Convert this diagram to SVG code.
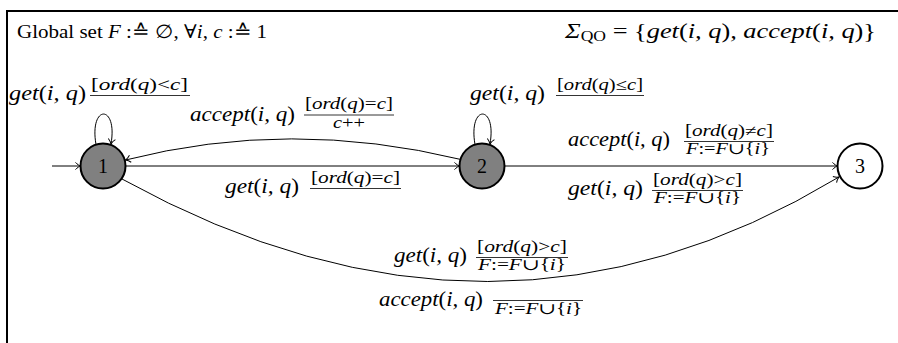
<svg xmlns="http://www.w3.org/2000/svg" width="898" height="343" viewBox="0 0 898 343">
<defs>
<style>
text{font-family:"Liberation Serif","Times New Roman",Times,"Noto Serif","DejaVu Serif",serif;fill:#000}
.m{font-style:italic;font-size:21px}
.s{font-style:italic;font-size:16px}
.u{font-style:normal}
.r{font-size:19px}
.n{font-size:20px;text-anchor:middle}
.fl{stroke:#000;stroke-width:0.8}
.e{fill:none;stroke:#000;stroke-width:1;marker-end:url(#arr)}
.st{stroke:#000;stroke-width:2}
</style>
<marker id="arr" markerUnits="userSpaceOnUse" markerWidth="12" markerHeight="12" viewBox="-7 -6 8 12" refX="0" refY="0" orient="auto" overflow="visible">
<path d="M-5,-3.6 C-3,-1.3 -1,-0.4 0,0 C-1,0.4 -3,1.3 -5,3.6" fill="none" stroke="#000" stroke-width="1"/>
</marker>
</defs>
<rect width="898" height="343" fill="#fff"/>
<path d="M7,343 V11 H898" fill="none" stroke="#000" stroke-width="2"/>

<g id="header">
<text class="r" x="17" y="38" textLength="250" lengthAdjust="spacingAndGlyphs">Global set <tspan font-style="italic">F</tspan> :≙ ∅, ∀<tspan font-style="italic">i</tspan>, <tspan font-style="italic">c</tspan> :≙ 1</text>
<text class="m" x="565" y="38" textLength="311" lengthAdjust="spacingAndGlyphs">Σ<tspan class="u" font-size="14px" dy="3">QO</tspan><tspan class="u" dy="-3"> = {</tspan>get<tspan class="u">(</tspan>i, q<tspan class="u">)</tspan>, accept<tspan class="u">(</tspan>i, q<tspan class="u">)}</tspan></text>
</g>

<g id="connectors">
<path id="init" class="e" d="M52,166 H80.5"/>
<path id="loop1" class="e" d="M96,144.5 C89,104 118,104 111,144"/>
<path id="loop2" class="e" d="M475,144.5 C468,104 497,104 490,144"/>
<path id="e12" class="e" d="M125.5,166 H459.5"/>
<path id="e21" class="e" d="M461,159.5 Q290,118 125.5,160"/>
<path id="e23" class="e" d="M504.5,166 H837.5"/>
<path id="e13" class="e" d="M122,179 Q495,385 839,177"/>
</g>

<g id="labels">
<g id="l-loop1">
<text class="m" x="9" y="100" textLength="77" lengthAdjust="spacingAndGlyphs">get<tspan class="u">(</tspan>i, q<tspan class="u">)</tspan></text>
<text class="s" x="91" y="90" textLength="97" lengthAdjust="spacingAndGlyphs"><tspan class="u">[</tspan>ord<tspan class="u">(</tspan>q<tspan class="u">)&lt;</tspan>c<tspan class="u">]</tspan></text>
<line class="fl" x1="90" y1="95.5" x2="190" y2="95.5"/>
</g>
<g id="l-e21">
<text class="m" x="190" y="121" textLength="105" lengthAdjust="spacingAndGlyphs">accept<tspan class="u">(</tspan>i, q<tspan class="u">)</tspan></text>
<text class="s" x="305" y="109" textLength="88" lengthAdjust="spacingAndGlyphs"><tspan class="u">[</tspan>ord<tspan class="u">(</tspan>q<tspan class="u">)=</tspan>c<tspan class="u">]</tspan></text>
<line class="fl" x1="304" y1="115" x2="394" y2="115"/>
<text class="s" x="349" y="128" text-anchor="middle" textLength="32" lengthAdjust="spacingAndGlyphs">c<tspan class="u">++</tspan></text>
</g>
<g id="l-e12">
<text class="m" x="225" y="193" textLength="74" lengthAdjust="spacingAndGlyphs">get<tspan class="u">(</tspan>i, q<tspan class="u">)</tspan></text>
<text class="s" x="311" y="183" textLength="89" lengthAdjust="spacingAndGlyphs"><tspan class="u">[</tspan>ord<tspan class="u">(</tspan>q<tspan class="u">)=</tspan>c<tspan class="u">]</tspan></text>
<line class="fl" x1="310" y1="188.5" x2="401" y2="188.5"/>
</g>
<g id="l-loop2">
<text class="m" x="470" y="100" textLength="75" lengthAdjust="spacingAndGlyphs">get<tspan class="u">(</tspan>i, q<tspan class="u">)</tspan></text>
<text class="s" x="557" y="90" textLength="86" lengthAdjust="spacingAndGlyphs"><tspan class="u">[</tspan>ord<tspan class="u">(</tspan>q<tspan class="u">)≤</tspan>c<tspan class="u">]</tspan></text>
<line class="fl" x1="556" y1="95.5" x2="644" y2="95.5"/>
</g>
<g id="l-e23a">
<text class="m" x="568" y="146" textLength="102" lengthAdjust="spacingAndGlyphs">accept<tspan class="u">(</tspan>i, q<tspan class="u">)</tspan></text>
<text class="s" x="685" y="136" textLength="88" lengthAdjust="spacingAndGlyphs"><tspan class="u">[</tspan>ord<tspan class="u">(</tspan>q<tspan class="u">)≠</tspan>c<tspan class="u">]</tspan></text>
<line class="fl" x1="684" y1="141.5" x2="774" y2="141.5"/>
<text class="s" x="686" y="154" textLength="84" lengthAdjust="spacingAndGlyphs">F<tspan class="u">:=</tspan>F<tspan class="u">∪{</tspan>i<tspan class="u">}</tspan></text>
</g>
<g id="l-e23b">
<text class="m" x="568" y="195" textLength="75" lengthAdjust="spacingAndGlyphs">get<tspan class="u">(</tspan>i, q<tspan class="u">)</tspan></text>
<text class="s" x="653" y="185" textLength="89" lengthAdjust="spacingAndGlyphs"><tspan class="u">[</tspan>ord<tspan class="u">(</tspan>q<tspan class="u">)&gt;</tspan>c<tspan class="u">]</tspan></text>
<line class="fl" x1="652" y1="190.5" x2="743" y2="190.5"/>
<text class="s" x="654" y="203" textLength="87" lengthAdjust="spacingAndGlyphs">F<tspan class="u">:=</tspan>F<tspan class="u">∪{</tspan>i<tspan class="u">}</tspan></text>
</g>
<g id="l-e13a">
<text class="m" x="394" y="262" textLength="73" lengthAdjust="spacingAndGlyphs">get<tspan class="u">(</tspan>i, q<tspan class="u">)</tspan></text>
<text class="s" x="477" y="252" textLength="90" lengthAdjust="spacingAndGlyphs"><tspan class="u">[</tspan>ord<tspan class="u">(</tspan>q<tspan class="u">)&gt;</tspan>c<tspan class="u">]</tspan></text>
<line class="fl" x1="476" y1="257.5" x2="568" y2="257.5"/>
<text class="s" x="478" y="270" textLength="88" lengthAdjust="spacingAndGlyphs">F<tspan class="u">:=</tspan>F<tspan class="u">∪{</tspan>i<tspan class="u">}</tspan></text>
</g>
<g id="l-e13b">
<text class="m" x="379" y="306" textLength="104" lengthAdjust="spacingAndGlyphs">accept<tspan class="u">(</tspan>i, q<tspan class="u">)</tspan></text>
<line class="fl" x1="493" y1="300.5" x2="583" y2="300.5"/>
<text class="s" x="495" y="314" textLength="87" lengthAdjust="spacingAndGlyphs">F<tspan class="u">:=</tspan>F<tspan class="u">∪{</tspan>i<tspan class="u">}</tspan></text>
</g>
</g>

<g id="node1">
<circle class="st" cx="103" cy="166" r="22.5" fill="#808080"/>
<text class="n" x="103" y="173">1</text>
</g>
<g id="node2">
<circle class="st" cx="482" cy="166" r="22.5" fill="#808080"/>
<text class="n" x="482" y="173">2</text>
</g>
<g id="node3">
<circle class="st" cx="860" cy="166" r="22.5" fill="#fff"/>
<text class="n" x="860" y="173">3</text>
</g>
</svg>
